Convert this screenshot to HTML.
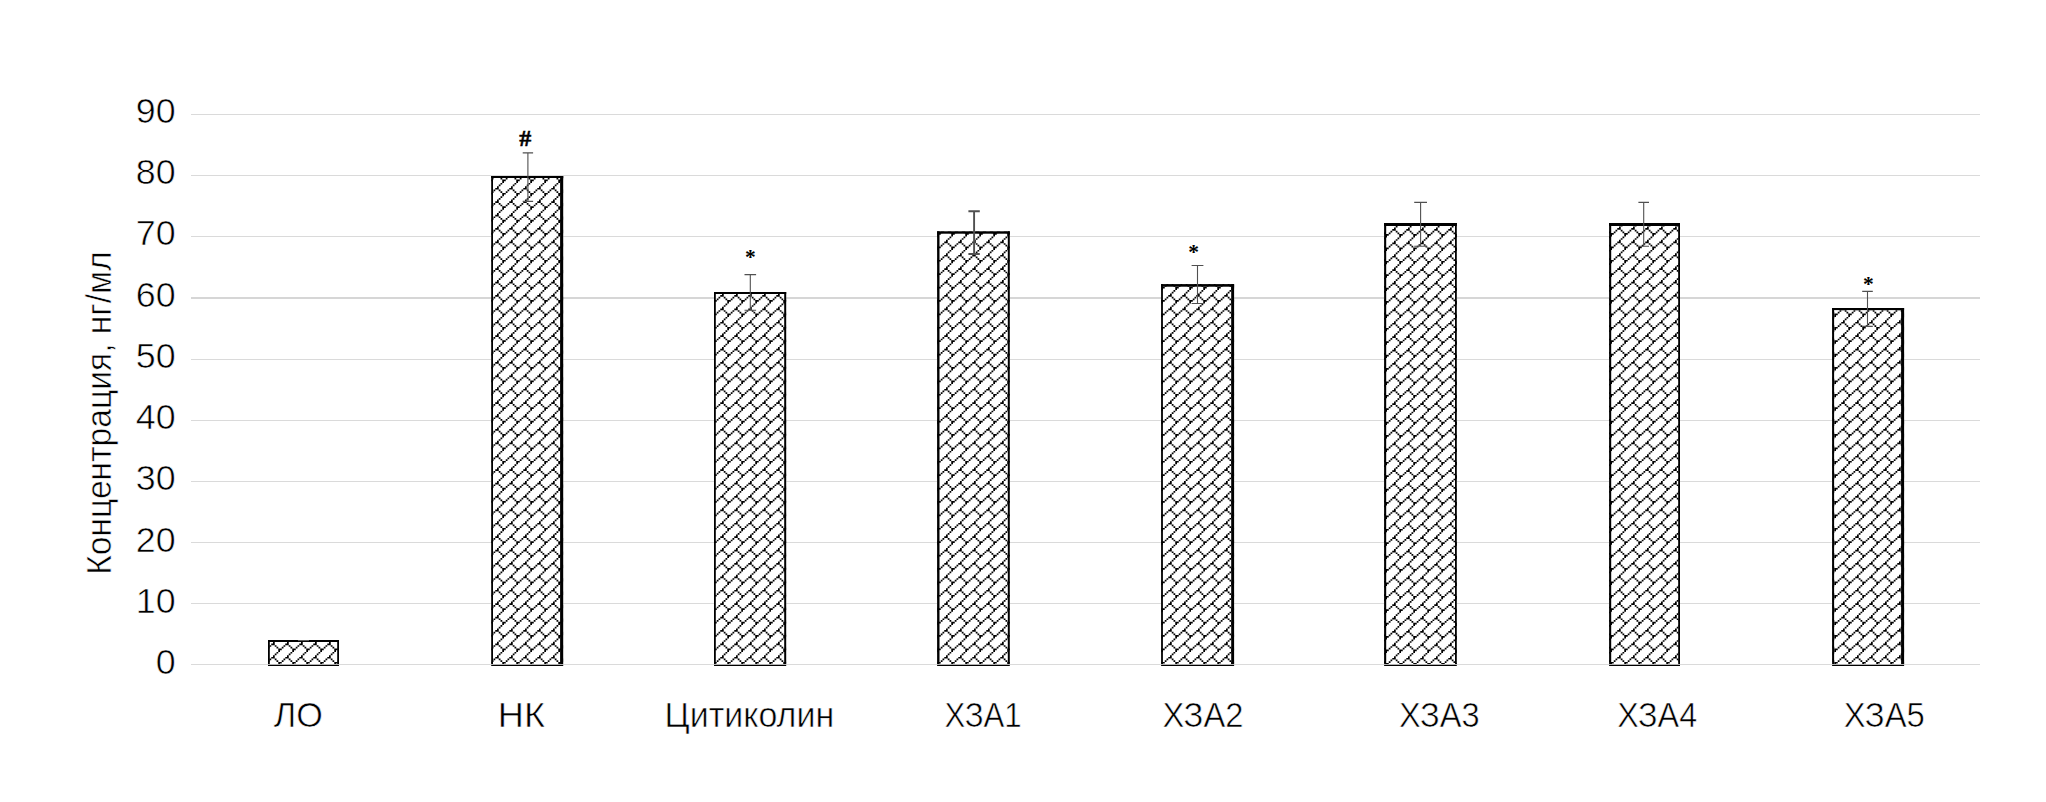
<!DOCTYPE html>
<html lang="ru">
<head>
<meta charset="utf-8">
<title>Концентрация, нг/мл</title>
<style>
html,body{margin:0;padding:0;background:#fff;}
body{width:2046px;height:802px;overflow:hidden;}
svg{display:block;}
.t{font-family:"Liberation Sans",sans-serif;fill:#000;stroke:#fff;stroke-width:0.6px;}
.s{font-family:"Liberation Serif",serif;font-weight:bold;fill:#000;}
</style>
</head>
<body>
<svg width="2046" height="802" viewBox="0 0 2046 802">
<defs>
<pattern id="brick" patternUnits="userSpaceOnUse" width="14.0" height="67" patternTransform="translate(1 7)">
<rect x="0" y="0" width="14.0" height="67" fill="#fff"/>
<path d="M12.25 0h1.75v1.675h-1.75zM10.5 1.675h1.75v1.675h-1.75zM8.75 3.35h1.75v1.675h-1.75zM7 5.025h1.75v1.675h-1.75zM5.25 6.7h1.75v1.675h-1.75zM7 6.7h1.75v1.675h-1.75zM3.5 8.375h1.75v1.675h-1.75zM8.75 8.375h1.75v1.675h-1.75zM1.75 10.05h1.75v1.675h-1.75zM10.5 10.05h1.75v1.675h-1.75zM0 11.72h1.75v1.675h-1.75zM12.25 11.72h1.75v1.675h-1.75zM12.25 13.4h1.75v1.675h-1.75zM10.5 15.08h1.75v1.675h-1.75zM8.75 16.75h1.75v1.675h-1.75zM7 18.43h1.75v1.675h-1.75zM5.25 20.1h1.75v1.675h-1.75zM7 20.1h1.75v1.675h-1.75zM3.5 21.78h1.75v1.675h-1.75zM8.75 21.78h1.75v1.675h-1.75zM1.75 23.45h1.75v1.675h-1.75zM10.5 23.45h1.75v1.675h-1.75zM0 25.12h1.75v1.675h-1.75zM12.25 25.12h1.75v1.675h-1.75zM12.25 26.8h1.75v1.675h-1.75zM10.5 28.48h1.75v1.675h-1.75zM8.75 30.15h1.75v1.675h-1.75zM7 31.82h1.75v1.675h-1.75zM5.25 33.5h1.75v1.675h-1.75zM7 33.5h1.75v1.675h-1.75zM3.5 35.18h1.75v1.675h-1.75zM8.75 35.18h1.75v1.675h-1.75zM1.75 36.85h1.75v1.675h-1.75zM10.5 36.85h1.75v1.675h-1.75zM0 38.52h1.75v1.675h-1.75zM12.25 38.52h1.75v1.675h-1.75zM12.25 40.2h1.75v1.675h-1.75zM10.5 41.88h1.75v1.675h-1.75zM8.75 43.55h1.75v1.675h-1.75zM7 45.23h1.75v1.675h-1.75zM5.25 46.9h1.75v1.675h-1.75zM7 46.9h1.75v1.675h-1.75zM3.5 48.58h1.75v1.675h-1.75zM8.75 48.58h1.75v1.675h-1.75zM1.75 50.25h1.75v1.675h-1.75zM10.5 50.25h1.75v1.675h-1.75zM0 51.93h1.75v1.675h-1.75zM12.25 51.93h1.75v1.675h-1.75zM12.25 53.6h1.75v1.675h-1.75zM10.5 55.27h1.75v1.675h-1.75zM8.75 56.95h1.75v1.675h-1.75zM7 58.62h1.75v1.675h-1.75zM5.25 60.3h1.75v1.675h-1.75zM7 60.3h1.75v1.675h-1.75zM3.5 61.98h1.75v1.675h-1.75zM8.75 61.98h1.75v1.675h-1.75zM1.75 63.65h1.75v1.675h-1.75zM10.5 63.65h1.75v1.675h-1.75zM0 65.33h1.75v1.675h-1.75zM12.25 65.33h1.75v1.675h-1.75z" fill="#000"/>
</pattern>
<pattern id="p0" href="#brick" patternTransform="translate(0 7)"/>
<pattern id="p2" href="#brick" patternTransform="translate(2 7)"/>
<pattern id="p3" href="#brick" patternTransform="translate(1 8)"/>
</defs>
<rect width="2046" height="802" fill="#fff"/>
<g fill="#dadada">
<rect x="191" y="114" width="1789" height="1"/>
<rect x="191" y="175" width="1789" height="1"/>
<rect x="191" y="236" width="1789" height="1"/>
<rect x="191" y="297" width="1789" height="2" fill="#d6d6d6"/>
<rect x="191" y="359" width="1789" height="1"/>
<rect x="191" y="420" width="1789" height="1"/>
<rect x="191" y="481" width="1789" height="1"/>
<rect x="191" y="542" width="1789" height="1"/>
<rect x="191" y="603" width="1789" height="1"/>
<rect x="191" y="664" width="1789" height="1"/>
</g>
<rect x="268" y="640" width="71" height="24" fill="url(#p0)"/>
<rect x="268" y="640" width="1.8" height="24" fill="#000"/>
<rect x="337.2" y="640" width="1.8" height="24" fill="#000"/>
<rect x="268" y="640" width="71" height="2" fill="#000"/>
<rect x="268" y="664" width="71" height="0.8" fill="#dcdcdc"/>
<rect x="268" y="664.8" width="71" height="1.2" fill="#000"/>
<rect x="491.2" y="176" width="72" height="488" fill="url(#p0)"/>
<rect x="491.2" y="176" width="1.8" height="488" fill="#000"/>
<rect x="560.1" y="176" width="3.1" height="488" fill="#000"/>
<rect x="491.2" y="176" width="72" height="2" fill="#000"/>
<rect x="491.2" y="664" width="72" height="0.8" fill="#dcdcdc"/>
<rect x="491.2" y="664.8" width="72" height="1.2" fill="#000"/>
<rect x="714" y="292" width="72.2" height="372" fill="url(#brick)"/>
<rect x="714" y="292" width="1.8" height="372" fill="#000"/>
<rect x="784.2" y="292" width="2" height="372" fill="#000"/>
<rect x="714" y="292" width="72.2" height="2" fill="#000"/>
<rect x="714" y="664" width="72.2" height="0.8" fill="#dcdcdc"/>
<rect x="714" y="664.8" width="72.2" height="1.2" fill="#000"/>
<rect x="937.1" y="231.3" width="72.7" height="432.7" fill="url(#brick)"/>
<rect x="937.1" y="231.3" width="2.4" height="432.7" fill="#000"/>
<rect x="1007.8" y="231.3" width="2" height="432.7" fill="#000"/>
<rect x="937.1" y="231.3" width="72.7" height="2.4" fill="#000"/>
<rect x="937.1" y="664" width="72.7" height="0.8" fill="#dcdcdc"/>
<rect x="937.1" y="664.8" width="72.7" height="1.2" fill="#000"/>
<rect x="1161.1" y="284.1" width="73" height="379.9" fill="url(#brick)"/>
<rect x="1161.1" y="284.1" width="1.8" height="379.9" fill="#000"/>
<rect x="1231.2" y="284.1" width="2.9" height="379.9" fill="#000"/>
<rect x="1161.1" y="284.1" width="73" height="2.6" fill="#000"/>
<rect x="1161.1" y="664" width="73" height="0.8" fill="#dcdcdc"/>
<rect x="1161.1" y="664.8" width="73" height="1.2" fill="#000"/>
<rect x="1384.1" y="223" width="72.7" height="441" fill="url(#p3)"/>
<rect x="1384.1" y="223" width="2.1" height="441" fill="#000"/>
<rect x="1455" y="223" width="1.8" height="441" fill="#000"/>
<rect x="1384.1" y="223" width="72.7" height="3" fill="#000"/>
<rect x="1384.1" y="664" width="72.7" height="0.8" fill="#dcdcdc"/>
<rect x="1384.1" y="664.8" width="72.7" height="1.2" fill="#000"/>
<rect x="1609.1" y="223" width="70.9" height="441" fill="url(#p2)"/>
<rect x="1609.1" y="223" width="2.1" height="441" fill="#000"/>
<rect x="1678.2" y="223" width="1.8" height="441" fill="#000"/>
<rect x="1609.1" y="223" width="70.9" height="3" fill="#000"/>
<rect x="1609.1" y="664" width="70.9" height="0.8" fill="#dcdcdc"/>
<rect x="1609.1" y="664.8" width="70.9" height="1.2" fill="#000"/>
<rect x="1832.1" y="308" width="72" height="356" fill="url(#p2)"/>
<rect x="1832.1" y="308" width="2" height="356" fill="#000"/>
<rect x="1901.1" y="308" width="3" height="356" fill="#000"/>
<rect x="1832.1" y="308" width="72" height="2.1" fill="#000"/>
<rect x="1832.1" y="664" width="72" height="0.8" fill="#dcdcdc"/>
<rect x="1832.1" y="664.8" width="72" height="1.2" fill="#000"/>
<path d="M527.9 152.9V201.4M522.7 152.9H533.1M522.7 201.4H533.1" fill="none" stroke="#505050" stroke-width="1.1"/>
<path d="M750.3 274.6V310.2M744.5 274.6H756.1M744.5 310.2H756.1" fill="none" stroke="#505050" stroke-width="1.1"/>
<path d="M974.1 211.3V254M968.4 211.3H979.8M968.4 254H979.8" fill="none" stroke="#505050" stroke-width="1.9"/>
<path d="M1197.5 265.5V303.5M1191.6 265.5H1203.4M1191.6 303.5H1203.4" fill="none" stroke="#505050" stroke-width="1.1"/>
<path d="M1420.6 202.4V246.2M1414.2 202.4H1427M1414.2 246.2H1427" fill="none" stroke="#505050" stroke-width="1.1"/>
<path d="M1643.7 202.4V246.2M1638.4 202.4H1649M1638.4 246.2H1649" fill="none" stroke="#505050" stroke-width="1.1"/>
<path d="M1867.5 291.4V326.4M1862.2 291.4H1872.8M1862.2 326.4H1872.8" fill="none" stroke="#505050" stroke-width="1.1"/>
<path d="M298 640.6H309" stroke="#666" stroke-width="1" fill="none"/>
<text class="t" x="175.6" y="123.00" font-size="35.8" text-anchor="end">90</text>
<text class="t" x="175.6" y="184.23" font-size="35.8" text-anchor="end">80</text>
<text class="t" x="175.6" y="245.46" font-size="35.8" text-anchor="end">70</text>
<text class="t" x="175.6" y="306.69" font-size="35.8" text-anchor="end">60</text>
<text class="t" x="175.6" y="367.92" font-size="35.8" text-anchor="end">50</text>
<text class="t" x="175.6" y="429.15" font-size="35.8" text-anchor="end">40</text>
<text class="t" x="175.6" y="490.38" font-size="35.8" text-anchor="end">30</text>
<text class="t" x="175.6" y="551.61" font-size="35.8" text-anchor="end">20</text>
<text class="t" x="175.6" y="612.84" font-size="35.8" text-anchor="end">10</text>
<text class="t" x="175.6" y="674.07" font-size="35.8" text-anchor="end">0</text>
<text class="t" x="273.79" y="727" font-size="35.8" textLength="49.03" lengthAdjust="spacingAndGlyphs">ЛО</text>
<text class="t" x="497.87" y="727" font-size="35.8" textLength="47.22" lengthAdjust="spacingAndGlyphs">НК</text>
<text class="t" x="664.52" y="727" font-size="35.8" textLength="169.66" lengthAdjust="spacingAndGlyphs">Цитиколин</text>
<text class="t" x="944.52" y="727" font-size="35.8" textLength="77.19" lengthAdjust="spacingAndGlyphs">ХЗА1</text>
<text class="t" x="1162.48" y="727" font-size="35.8" textLength="80.99" lengthAdjust="spacingAndGlyphs">ХЗА2</text>
<text class="t" x="1398.99" y="727" font-size="35.8" textLength="80.54" lengthAdjust="spacingAndGlyphs">ХЗА3</text>
<text class="t" x="1617.24" y="727" font-size="35.8" textLength="79.90" lengthAdjust="spacingAndGlyphs">ХЗА4</text>
<text class="t" x="1843.70" y="727" font-size="35.8" textLength="81.16" lengthAdjust="spacingAndGlyphs">ХЗА5</text>
<text class="t" transform="translate(111.2 574.76) rotate(-90)" font-size="35.2" textLength="323.46" lengthAdjust="spacingAndGlyphs">Концентрация, нг/мл</text>
<text class="s" x="525.3" y="146.2" font-size="24" stroke="#000" stroke-width="0.5" text-anchor="middle">#</text>
<text class="s" x="750.3" y="263.7" font-size="21.5" font-weight="normal" text-anchor="middle">*</text>
<text class="s" x="1193.5" y="258.7" font-size="21.5" font-weight="normal" text-anchor="middle">*</text>
<text class="s" x="1868.4" y="290.9" font-size="21.5" font-weight="normal" text-anchor="middle">*</text>
</svg>
</body>
</html>
